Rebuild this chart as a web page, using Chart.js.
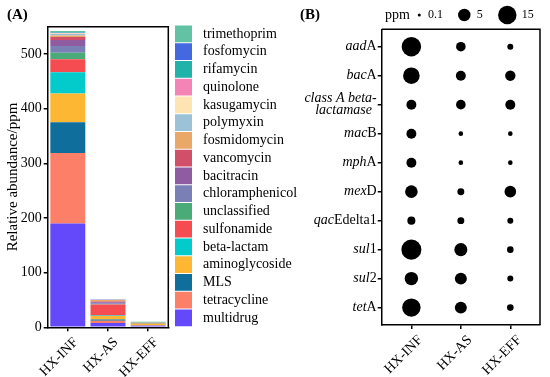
<!DOCTYPE html>
<html>
<head>
<meta charset="utf-8">
<script src="https://cdn.jsdelivr.net/npm/chart.js@4.4.1/dist/chart.umd.min.js"></script>
<style>
body{margin:0;background:#fff;}
#wrap{position:relative;width:550px;height:377px;overflow:hidden;}
#c1{position:absolute;left:0;top:0;}
#c2{position:absolute;left:290px;top:0;}
</style>
</head>
<body>
<div id="wrap">
<canvas id="c1" width="300" height="377"></canvas>
<canvas id="c2" width="260" height="377"></canvas>
</div>
<script>
// ---- panel A data (ppm), order: HX-INF, HX-AS, HX-EFF ----
var sites = ['HX-INF', 'HX-AS', 'HX-EFF'];
var multidrug       = [190, 8, 2.8];
var tetracycline    = [129, 4, 1];
var MLS             = [56, 2.5, 0.5];
var aminoglycoside  = [53, 6, 2];
var betaLactam      = [38.5, 1, 0.3];
var sulfonamide     = [24, 20, 0.5];
var unclassified    = [12, 0.5, 1.2];
var chloramphenicol = [12, 2, 0.2];
var bacitracin      = [11, 2, 0.2];
var vancomycin      = [5.5, 1, 0.1];
var fosmidomycin    = [3, 3, 0.1];
var polymyxin       = [2.5, 0.3, 0.1];
var kasugamycin     = [1, 0.2, 0.1];
var quinolone       = [1, 0.2, 0.1];
var rifamycin       = [1, 0.2, 0.1];
var fosfomycin      = [0.5, 0.2, 0.1];
var trimethoprim    = [2, 0.3, 0.6];

// bottom of stack first
var classNames = ['multidrug','tetracycline','MLS','aminoglycoside','beta-lactam','sulfonamide','unclassified',
	'chloramphenicol','bacitracin','vancomycin','fosmidomycin','polymyxin','kasugamycin','quinolone','rifamycin',
	'fosfomycin','trimethoprim'];
var classValues = [multidrug, tetracycline, MLS, aminoglycoside, betaLactam, sulfonamide, unclassified,
	chloramphenicol, bacitracin, vancomycin, fosmidomycin, polymyxin, kasugamycin, quinolone, rifamycin,
	fosfomycin, trimethoprim];
var classColors = ['#6449fb','#fc8068','#0f6e9b','#fdb733','#03cbcc','#f44c51','#4aab79',
	'#7a80b6','#8f5ba1','#d24f69','#e9a868','#9bc2d7','#fee4b2','#f483b6','#21b2aa',
	'#4368e0','#63c2a3'];

// ---- panel B data (ppm) ----
var genes = ['aadA','bacA','class A beta-lactamase','macB','mphA','mexD','qacEdelta1','sul1','sul2','tetA'];
var infPpm = [17.3, 11.2, 2.7, 2.7, 2.7, 5.2, 1.5, 18.8, 6.2, 14.9];
var asPpm  = [2.45, 2.7, 2.45, 0.32, 0.32, 1.0, 1.0, 5.7, 4.5, 4.5];
var effPpm = [0.66, 3.05, 2.7, 0.32, 0.32, 4.1, 0.66, 0.86, 0.66, 0.86];
var legendPpm = [0.1, 5, 15];

var serif = "'Liberation Serif', 'DejaVu Serif', serif";

function sizeOf(v) {
	return 3.48 * Math.pow(v, 0.36);
}

// ---------- Panel A ----------
var datasetsA = [];
for (var i = 0; i < classNames.length; i++) {
	datasetsA.push({
		label: classNames[i],
		data: classValues[i],
		backgroundColor: classColors[i],
		borderWidth: 0,
		barPercentage: 0.87,
		categoryPercentage: 1
	});
}

var boxPlugin = {
	id: 'box',
	afterDraw: function(chart) {
		var ctx = chart.ctx, a = chart.chartArea;
		ctx.save();
		ctx.strokeStyle = '#000';
		ctx.lineWidth = 1.5;
		ctx.beginPath();
		ctx.moveTo(a.left, a.top);
		ctx.lineTo(a.right, a.top);
		ctx.lineTo(a.right, a.bottom);
		ctx.stroke();
		ctx.restore();
	}
};

var classLegend = {
	id: 'classLegend',
	afterDraw: function(chart) {
		var ctx = chart.ctx;
		var ds = chart.data.datasets;
		var step = 17.75;
		ctx.save();
		ctx.font = '14px ' + serif;
		ctx.textBaseline = 'middle';
		ctx.fillStyle = '#000';
		for (var k = 0; k < ds.length; k++) {
			var d = ds[ds.length - 1 - k];
			var y = 25 + k * step;
			ctx.fillStyle = d.backgroundColor;
			ctx.fillRect(175, y + 0.5, 17, step - 1);
			ctx.fillStyle = '#000';
			ctx.fillText(d.label, 203, y + step / 2);
		}
		ctx.font = 'bold 15px ' + serif;
		ctx.fillText('(A)', 7, 15);
		ctx.restore();
	}
};

var tickFont = {family: serif, size: 14};

new Chart(document.getElementById('c1'), {
	type: 'bar',
	data: {labels: sites, datasets: datasetsA},
	options: {
		responsive: false,
		animation: false,
		layout: {padding: {left: 0, top: 26.7, right: 131.7, bottom: 0}},
		plugins: {legend: {display: false}, tooltip: {enabled: false}},
		scales: {
			x: {
				stacked: true,
				grid: {display: true, offset: false, drawOnChartArea: false, drawTicks: true, tickLength: 4, color: '#000', lineWidth: 1.5},
				border: {display: true, color: '#000', width: 1.5},
				ticks: {color: '#000', font: tickFont, maxRotation: 45, minRotation: 45, padding: 3, labelOffset: 8},
				afterFit: function(s) { s.height = 49.7; }
			},
			y: {
				stacked: true,
				min: 0,
				max: 550,
				grid: {display: true, drawOnChartArea: false, drawTicks: true, tickLength: 4, color: '#000', lineWidth: 1.5},
				border: {display: true, color: '#000', width: 1.5},
				ticks: {stepSize: 100, color: '#000', font: tickFont, padding: 2},
				afterBuildTicks: function(s) {
					s.ticks = s.ticks.filter(function(t) { return t.value % 100 === 0; });
				},
				title: {display: true, text: 'Relative abundance/ppm', color: '#000', font: {family: serif, size: 15}, padding: {top: 4, bottom: 0}},
				afterFit: function(s) { s.width = 47.7; }
			}
		}
	},
	plugins: [boxPlugin, classLegend]
});

// ---------- Panel B ----------
var siteValues = [infPpm, asPpm, effPpm];
var datasetsB = [];
for (var s = 0; s < sites.length; s++) {
	var pts = [];
	for (var g = 0; g < genes.length; g++) {
		pts.push({x: s, y: g, r: sizeOf(siteValues[s][g])});
	}
	datasetsB.push({
		label: sites[s],
		data: pts,
		backgroundColor: '#000',
		borderWidth: 0,
		hoverRadius: 0
	});
}

function drawGene(ctx, name, xr, y) {
	if (name.indexOf(' ') > -1) {
		// two-line italic label
		var l1 = 'class A beta-', l2 = 'lactamase';
		ctx.font = 'italic 14px ' + serif;
		var w1 = ctx.measureText(l1).width;
		ctx.textAlign = 'center';
		ctx.fillText(l1, xr - w1 / 2, y - 6);
		ctx.fillText(l2, xr - w1 / 2 + 3, y + 5.5);
		ctx.textAlign = 'left';
		return;
	}
	var m = name.match(/^[a-z]+/);
	var it = m ? m[0] : '';
	var rest = name.slice(it.length);
	ctx.font = '14px ' + serif;
	var wr = ctx.measureText(rest).width;
	ctx.font = 'italic 14px ' + serif;
	var wi = ctx.measureText(it).width;
	ctx.textAlign = 'left';
	ctx.fillText(it, xr - wr - wi, y);
	ctx.font = '14px ' + serif;
	ctx.fillText(rest, xr - wr, y);
}

var geneLabels = {
	id: 'geneLabels',
	afterDraw: function(chart) {
		var ctx = chart.ctx, a = chart.chartArea;
		var ys = chart.scales.y;
		ctx.save();
		ctx.fillStyle = '#000';
		ctx.textBaseline = 'middle';
		for (var g = 0; g < genes.length; g++) {
			drawGene(ctx, genes[g], a.left - 5, ys.getPixelForValue(g));
		}
		// size legend
		ctx.font = '14px ' + serif;
		ctx.fillText('ppm', 95, 15);
		var dotX = [129.3, 174.3, 217.3];
		var txtX = [138, 186.7, 231.7];
		ctx.font = '12px ' + serif;
		for (var k = 0; k < legendPpm.length; k++) {
			ctx.beginPath();
			ctx.arc(dotX[k], 15, sizeOf(legendPpm[k]), 0, Math.PI * 2);
			ctx.fill();
			ctx.fillText(String(legendPpm[k]), txtX[k], 15);
		}
		ctx.font = 'bold 15px ' + serif;
		ctx.fillText('(B)', 10, 15);
		ctx.restore();
	}
};

new Chart(document.getElementById('c2'), {
	type: 'bubble',
	data: {datasets: datasetsB},
	options: {
		responsive: false,
		animation: false,
		layout: {padding: {left: 0, top: 29.3, right: 7.7, bottom: 0}},
		plugins: {legend: {display: false}, tooltip: {enabled: false}},
		scales: {
			x: {
				type: 'linear',
				min: -0.6,
				max: 2.6,
				grid: {display: true, drawOnChartArea: false, drawTicks: true, tickLength: 4, color: '#000', lineWidth: 1.5},
				border: {display: true, color: '#000', width: 1.5},
				afterBuildTicks: function(sc) { sc.ticks = [{value: 0}, {value: 1}, {value: 2}]; },
				ticks: {
					color: '#000', font: tickFont, maxRotation: 45, minRotation: 45, padding: 3, labelOffset: 9,
					callback: function(v) { return sites[v]; }
				},
				afterFit: function(sc) { sc.height = 52; }
			},
			y: {
				type: 'linear',
				reverse: true,
				min: -0.6,
				max: 9.6,
				grid: {display: true, drawOnChartArea: false, drawTicks: true, tickLength: 4, color: '#000', lineWidth: 1.5},
				border: {display: true, color: '#000', width: 1.5},
				afterBuildTicks: function(sc) {
					var t = [];
					for (var g = 0; g < genes.length; g++) t.push({value: g});
					sc.ticks = t;
				},
				ticks: {display: false},
				afterFit: function(sc) { sc.width = 91.7; }
			}
		}
	},
	plugins: [boxPlugin, geneLabels]
});
</script>
</body>
</html>
